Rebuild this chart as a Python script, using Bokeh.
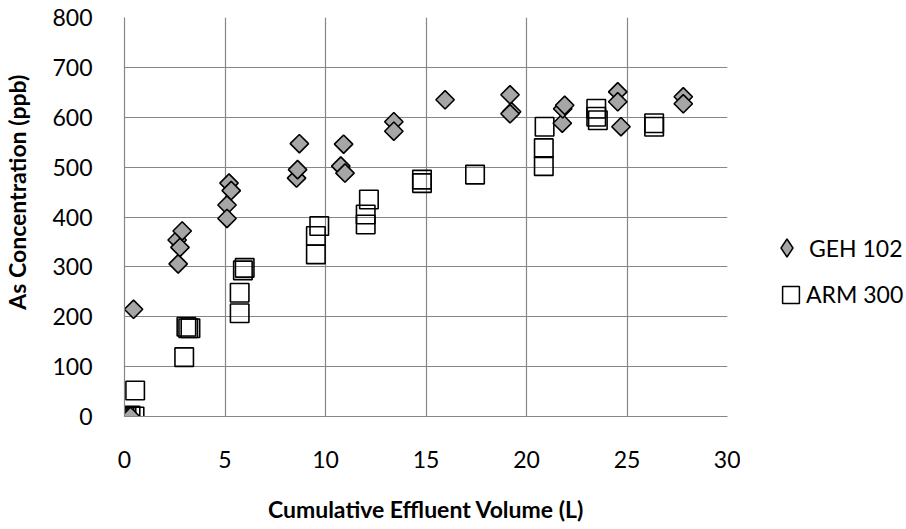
import math
from bokeh.plotting import figure
from bokeh.layouts import row
from bokeh.models import Legend, LegendItem, Range1d, FixedTicker
from bokeh.embed import file_html
from bokeh.resources import INLINE

# GEH 102 series
geh_x = [0.0, 0.1, 0.2, 0.3, 0.45, 2.62, 2.67, 2.76, 2.87, 5.1, 5.1, 5.2, 5.31,
         8.56, 8.61, 8.7, 10.76, 10.9, 10.97, 13.4, 13.4, 15.95, 19.18, 19.26, 19.18,
         21.78, 21.8, 21.9, 24.54, 24.54, 24.7, 27.8, 27.8]
geh_y = [0, 0, 0, 0, 215, 354, 306, 339, 372, 424, 397, 468, 453,
         478, 495, 547, 502, 546, 488, 591, 572, 635, 645, 611, 607,
         588, 617, 624, 651, 631, 581, 641, 627]

# ARM 300 series
arm_x = [0.0, 0.1, 0.3, 0.5, 0.53, 2.97, 3.08, 3.17, 3.28, 5.73, 5.73, 5.89, 5.98,
         9.52, 9.52, 9.69, 12.0, 12.0, 12.16, 14.8, 14.8, 17.44, 20.86, 20.86, 20.9,
         23.47, 23.47, 23.55, 26.35, 26.35]
arm_y = [0, 0, 2, 0, 52, 119, 180, 177, 177, 207, 248, 293, 298,
         325, 362, 382, 385, 405, 435, 475, 468, 485, 502, 538, 581,
         617, 601, 594, 588, 581]

x_ticks = [0, 5, 10, 15, 20, 25, 30]
y_ticks = [0, 100, 200, 300, 400, 500, 600, 700, 800]
series_names = ["GEH 102", "ARM 300"]

FONT = "Lato"
GRID = "#868686"
GEH_FILL = "#A6A6A6"
H = 525
NAN = float("nan")

p = figure(width=740, height=H, output_backend="svg", toolbar_location=None,
           x_range=Range1d(0, 30), y_range=Range1d(0, 800),
           min_border_left=121, min_border_right=13, min_border_top=17,
           min_border_bottom=104)
p.outline_line_color = None
p.background_fill_color = "white"

for ax in (p.xaxis[0], p.yaxis[0]):
    ax.axis_line_color = GRID
    ax.axis_line_width = 1.2
    ax.major_tick_line_color = None
    ax.minor_tick_line_color = None
    ax.major_label_text_font = FONT
    ax.major_label_text_font_size = "23px"
    ax.major_label_text_color = "#000000"
    ax.axis_label_text_font = FONT
    ax.axis_label_text_font_size = "23px"
    ax.axis_label_text_font_style = "bold"
    ax.axis_label_text_color = "#000000"

p.xaxis.ticker = FixedTicker(ticks=x_ticks)
p.yaxis.ticker = FixedTicker(ticks=y_ticks)
p.xaxis.major_label_standoff = 28
p.yaxis.major_label_standoff = 26
p.xaxis.axis_label = "Cumulative Effluent Volume (L)"
p.xaxis.axis_label_standoff = 24
p.yaxis.axis_label = "\u00a0" * 9 + "As Concentration (ppb)"
p.yaxis.axis_label_standoff = 18

p.xgrid.ticker = FixedTicker(ticks=x_ticks)
p.ygrid.ticker = FixedTicker(ticks=y_ticks)
p.xgrid.grid_line_color = GRID
p.ygrid.grid_line_color = GRID
p.xgrid.grid_line_width = 1.2
p.ygrid.grid_line_width = 1.2

p.scatter(arm_x, arm_y, marker="square", size=18.5, fill_color=None,
          line_color="black", line_width=1.6)
p.scatter(geh_x, geh_y, marker="square", angle=math.pi / 4, size=13,
          fill_color=GEH_FILL, line_color="black", line_width=1.6)

# legend panel (frame is aligned with the main plot's frame by the row layout)
p2 = figure(width=166, height=H, output_backend="svg", toolbar_location=None,
            x_axis_type=None, y_axis_type=None,
            x_range=Range1d(0, 1), y_range=Range1d(0, 1),
            min_border_left=0, min_border_right=0, min_border_top=17,
            min_border_bottom=104)
p2.outline_line_color = None
p2.xgrid.visible = False
p2.ygrid.visible = False

lg_geh = p2.scatter([NAN], [NAN], marker="diamond", size=10, fill_color=GEH_FILL,
                    line_color="black", line_width=1.5)
lg_arm = p2.rect([NAN], [NAN], width=0.1, height=0.1, fill_color=None,
                 line_color="black", line_width=1.5)

common = dict(border_line_color=None, background_fill_alpha=0, padding=0,
              margin=0, label_text_font=FONT, label_text_font_size="23px",
              label_text_color="#000000")
leg1 = Legend(items=[LegendItem(label=series_names[0], renderers=[lg_geh])],
              location=(24, 146), glyph_width=45, glyph_height=45,
              label_height=45, label_standoff=0, **common)
leg2 = Legend(items=[LegendItem(label=series_names[1], renderers=[lg_arm])],
              location=(40, 108), glyph_width=21, glyph_height=21,
              label_height=21, label_standoff=5, **common)
p2.add_layout(leg1, "center")
p2.add_layout(leg2, "center")

layout = row(p, p2)
open("out.html", "w").write(file_html(layout, INLINE))
